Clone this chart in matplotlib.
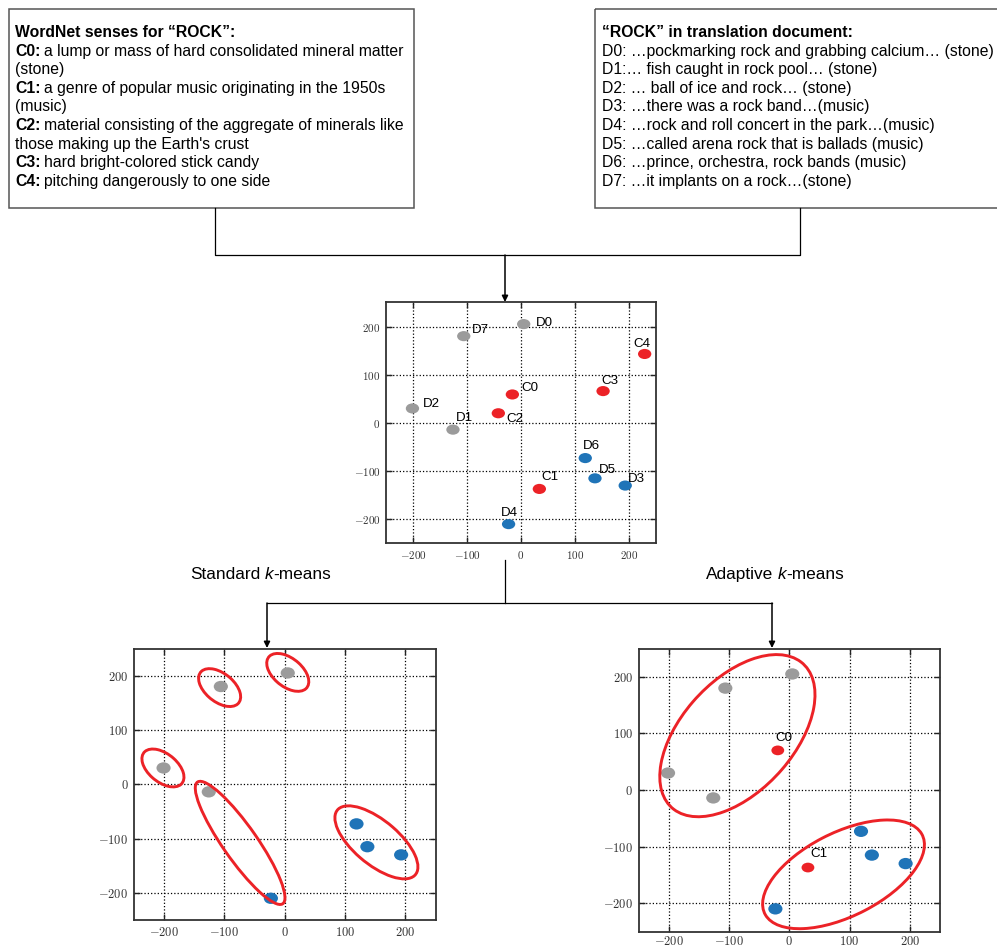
"""Sense clustering figure for the word ROCK: WordNet senses vs. document usages."""

import matplotlib
matplotlib.use("Agg")
import matplotlib.pyplot as plt
from matplotlib.patches import Ellipse, Rectangle
from matplotlib.path import Path
from matplotlib.ticker import FuncFormatter, MultipleLocator

plt.rcParams['font.family'] = ['Liberation Sans', 'DejaVu Sans']
plt.rcParams['mathtext.fontset'] = 'cm'

# document usages of "rock" (2-D embedding)
doc_names = ["D0", "D1", "D2", "D3", "D4", "D5", "D6", "D7"]
doc_x = [5, -126, -201, 193, -23, 137, 119, -106]
doc_y = [205, -14, 30, -130, -210, -115, -73, 180]
doc_sense = ["stone", "stone", "stone", "music", "music", "music", "music", "stone"]

# WordNet sense embeddings
sense_names = ["C0", "C1", "C2", "C3", "C4"]
sense_x = [-16, 34, -42, 152, 229]
sense_y = [59, -137, 20, 66, 143]

# senses kept by adaptive k-means
adaptive_names = ["C0", "C1"]
adaptive_x = [-19, 31]
adaptive_y = [70, -137]

# cluster outlines: (center x, center y, width, height, angle)
standard_clusters = [
    (-108, 178, 85, 50, -45),
    (5, 206, 85, 50, -45),
    (-202, 30, 85, 50, -45),
    (-74, -108, 265, 58, -58),
    (152, -107, 176, 78, -44),
]
adaptive_clusters = [
    (-86, 96, 335, 190, 51),
    (90, -149, 296, 146, 29),
]

wordnet_title = "WordNet senses for \u201cROCK\u201d:"
wordnet_lines = [
    ("C0:", "a lump or mass of hard consolidated mineral matter"),
    ("", "(stone)"),
    ("C1:", "a genre of popular music originating in the 1950s"),
    ("", "(music)"),
    ("C2:", "material consisting of the aggregate of minerals like"),
    ("", "those making up the Earth's crust"),
    ("C3:", "hard bright-colored stick candy"),
    ("C4:", "pitching dangerously to one side"),
]

doc_title = "\u201cROCK\u201d in translation document:"
doc_lines = [
    "D0: \u2026pockmarking rock and grabbing calcium\u2026 (stone)",
    "D1:\u2026 fish caught in rock pool\u2026 (stone)",
    "D2: \u2026 ball of ice and rock\u2026 (stone)",
    "D3: \u2026there was a rock band\u2026(music)",
    "D4: \u2026rock and roll concert in the park\u2026(music)",
    "D5: \u2026called arena rock that is ballads (music)",
    "D6: \u2026prince, orchestra, rock bands (music)",
    "D7: \u2026it implants on a rock\u2026(stone)",
]

GRAY = '#9b9b9b'
RED = '#ec2227'
BLUE = '#1f74b8'
colors = {"stone": GRAY, "music": BLUE}

# label offsets in pixels for the middle plot
label_offsets = {
    "D0": (12, 1), "D7": (8, 6), "D2": (10, 4), "D1": (3, 12),
    "C0": (9, 6), "C2": (8, -6), "C3": (-2, 10), "C4": (-11, 10),
    "C1": (2, 12), "D6": (-2, 12), "D5": (4, 8), "D3": (3, 7), "D4": (-8, 11),
}
adaptive_offsets = {"C0": (-2, 12), "C1": (2, 14)}


def oval(ratio):
    c = Path.unit_circle()
    return Path(c.vertices * [1, ratio], c.codes)


def style_axes(ax, size, pad=4):
    ax.set_xlim(-250, 250)
    ax.set_ylim(-250, 250)
    ax.xaxis.set_major_locator(MultipleLocator(100))
    ax.yaxis.set_major_locator(MultipleLocator(100))
    fmt = FuncFormatter(lambda v, p: f"${v:.0f}$")
    ax.xaxis.set_major_formatter(fmt)
    ax.yaxis.set_major_formatter(fmt)
    ax.grid(True, color='black', linestyle=':', linewidth=0.9)
    ax.set_axisbelow(True)
    ax.tick_params(direction='in', top=True, right=True, length=4, width=1,
                   labelsize=size, pad=4, colors='#222222', labelcolor='#333333')
    ax.tick_params(axis='x', pad=pad)
    for s in ax.spines.values():
        s.set_linewidth(1.3)
        s.set_color('#333333')


def rich(ax, x, y, parts, size):
    # parts: (text, weight, style, gap in points before it)
    prev = None
    for text, weight, style, gap in parts:
        if prev is None:
            prev = ax.text(x, y, text, fontsize=size, weight=weight, style=style,
                           ha='left', va='baseline')
        else:
            prev = ax.annotate(text, xy=(1, 0), xycoords=prev, xytext=(gap, 0),
                               textcoords='offset points', fontsize=size,
                               weight=weight, style=style, ha='left', va='bottom')


W, H = 997, 946
fig = plt.figure(figsize=(W / 100, H / 100), dpi=100)

# overlay in pixel coordinates for boxes, connectors and captions
ov = fig.add_axes([0, 0, 1, 1])
ov.set_xlim(0, W)
ov.set_ylim(H, 0)
ov.axis('off')

ov.add_patch(Rectangle((9, 9), 405, 199, fill=False, ec='#555555', lw=1.1))
ov.add_patch(Rectangle((595, 9), 420, 199, fill=False, ec='#555555', lw=1.1))

fs = 11.3
step = 18.6
rich(ov, 15, 37, [(wordnet_title, 'bold', 'normal', 0)], fs)
for i, (head, rest) in enumerate(wordnet_lines):
    y = 37 + step * (i + 1)
    if head:
        rich(ov, 15, y, [(head, 'bold', 'normal', 0), (rest, 'normal', 'normal', 2.8)], fs)
    else:
        rich(ov, 15, y, [(rest, 'normal', 'normal', 0)], fs)

rich(ov, 602, 37, [(doc_title, 'bold', 'normal', 0)], fs)
for i, line in enumerate(doc_lines):
    ov.text(602, 37 + step * (i + 1), line, fontsize=fs, ha='left', va='baseline')

# connectors
lk = dict(color='black', lw=0.9)
ov.plot([215, 215, 800, 800], [208, 255, 255, 208], **lk)
ov.plot([505, 505], [560, 603], **lk)
ov.plot([267, 772], [603, 603], **lk)
arrow = dict(arrowstyle='-|>', color='black', lw=1.1, mutation_scale=9,
             shrinkA=0, shrinkB=0)
ov.annotate('', xy=(505, 302), xytext=(505, 255), arrowprops=arrow)
ov.annotate('', xy=(267, 648), xytext=(267, 603), arrowprops=arrow)
ov.annotate('', xy=(772, 648), xytext=(772, 603), arrowprops=arrow)

rich(ov, 190, 579, [("Standard", 'normal', 'normal', 0), ("k", 'normal', 'italic', 3.4),
                    ("-means", 'normal', 'normal', 0)], 12.4)
rich(ov, 706, 579, [("Adaptive", 'normal', 'normal', 0), ("k", 'normal', 'italic', 3.4),
                    ("-means", 'normal', 'normal', 0)], 12.4)

# middle: all points
ax = fig.add_axes([386 / W, 1 - 543.4 / H, 270 / W, 241 / H])
style_axes(ax, 8)
small = oval(0.76)
ax.scatter(doc_x, doc_y, s=92, marker=small, c=[colors[s] for s in doc_sense],
           edgecolors='none', zorder=3)
ax.scatter(sense_x, sense_y, s=92, marker=small, c=RED, edgecolors='none', zorder=3)
for name, x, y in zip(doc_names + sense_names, doc_x + sense_x, doc_y + sense_y):
    ax.annotate(name, (x, y), xytext=label_offsets[name], textcoords='offset pixels',
                ha='left', va='center', fontsize=9.6)

# bottom left: standard k-means
ax1 = fig.add_axes([134 / W, 1 - 920 / H, 301.5 / W, 271.5 / H])
style_axes(ax1, 9)
big = oval(0.8)
ax1.scatter(doc_x, doc_y, s=104, marker=big, c=[colors[s] for s in doc_sense],
            edgecolors='none', zorder=3)
for cx, cy, w, h, a in standard_clusters:
    ax1.add_patch(Ellipse((cx, cy), w, h, angle=a, fill=False, ec=RED, lw=2.1, zorder=4))

# bottom right: adaptive k-means
ax2 = fig.add_axes([638.5 / W, 1 - 931.5 / H, 301.5 / W, 283 / H])
style_axes(ax2, 9, pad=2.5)
ax2.scatter(doc_x, doc_y, s=104, marker=big, c=[colors[s] for s in doc_sense],
            edgecolors='none', zorder=3)
ax2.scatter(adaptive_x, adaptive_y, s=85, marker=small, c=RED, edgecolors='none', zorder=3)
for name, x, y in zip(adaptive_names, adaptive_x, adaptive_y):
    ax2.annotate(name, (x, y), xytext=adaptive_offsets[name], textcoords='offset pixels',
                 ha='left', va='center', fontsize=9.6)
for cx, cy, w, h, a in adaptive_clusters:
    ax2.add_patch(Ellipse((cx, cy), w, h, angle=a, fill=False, ec=RED, lw=2.1, zorder=4))

fig.savefig('out.png', dpi=100)
